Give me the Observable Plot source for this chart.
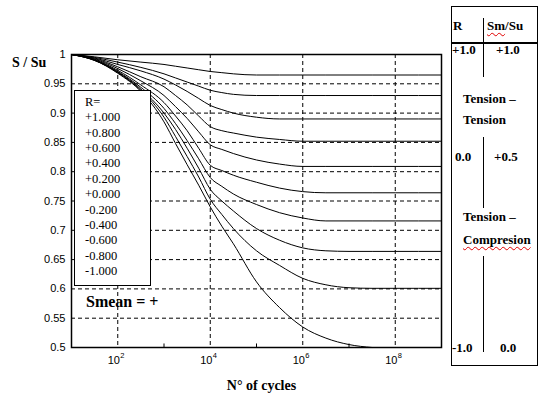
<!DOCTYPE html>
<html>
<head>
<meta charset="utf-8">
<script src="https://cdn.jsdelivr.net/npm/d3@7"></script>
<script src="https://cdn.jsdelivr.net/npm/@observablehq/plot@0.6"></script>
<style>
  body { margin: 0; background: #fff; }
  #wrap { position: relative; width: 543px; height: 398px; background: #fff; overflow: hidden; }
  #chart { position: absolute; left: 0; top: 0; }
  .serif, .serif * { font-family: 'Liberation Serif', 'Times New Roman', Times, 'DejaVu Serif', serif; color: #000; }
  .abs { position: absolute; white-space: nowrap; }
  .b13 { font-weight: bold; font-size: 13px; line-height: 13px; }
  .wavy { text-decoration: underline wavy #e00000; text-decoration-thickness: 1px; text-underline-offset: 2px; }
  #legend { position: absolute; left: 74px; top: 90px; width: 75px; height: 190px; border: 1px solid #000; background: #fff;
            font-size: 12.5px; line-height: 15.4px; padding-top: 3.7px; box-sizing: content-box; }
  #legend div { padding-left: 10px; }
  .vline { position: absolute; width: 1px; background: #000; }
</style>
</head>
<body>
<div id="wrap">
  <div id="chart"></div>
  <div class="abs serif" style="left:12px;top:55.6px;font-size:14px;line-height:14px;font-weight:bold;">S / Su</div>
  <div class="abs serif" style="left:261.5px;top:379px;font-size:14px;line-height:14px;font-weight:bold;transform:translateX(-50%);">N° of cycles</div>
  <div id="legend" class="serif"></div>
  <div class="abs serif" style="left:86px;top:294.4px;font-size:16px;line-height:16px;font-weight:bold;">Smean = +</div>

  <div id="table" class="serif">
    <div class="abs" style="left:451px;top:6px;width:85px;height:358px;border:1.5px solid #000;"></div>
    <div class="abs" style="left:451px;top:42px;width:87px;height:1.5px;background:#000;"></div>
    <div class="vline" style="left:483px;top:18px;height:59px;"></div>
    <div class="vline" style="left:483px;top:137px;height:71px;"></div>
    <div class="vline" style="left:483px;top:256px;height:96px;"></div>
    <div class="abs b13" style="left:453px;top:19.4px;">R</div>
    <div class="abs b13" style="left:487px;top:19.4px;"><span class="wavy">Sm</span>/Su</div>
    <div class="abs b13" style="left:452px;top:43.4px;">+1.0</div>
    <div class="abs b13" style="left:496px;top:43.4px;">+1.0</div>
    <div class="abs b13" style="left:463px;top:91.7px;">Tension –</div>
    <div class="abs b13" style="left:463px;top:113.4px;">Tension</div>
    <div class="abs b13" style="left:455px;top:150px;">0.0</div>
    <div class="abs b13" style="left:494px;top:150px;">+0.5</div>
    <div class="abs b13" style="left:463px;top:210px;">Tension –</div>
    <div class="abs b13" style="left:463px;top:233.4px;"><span class="wavy">Compresion</span></div>
    <div class="abs b13" style="left:452px;top:341px;">-1.0</div>
    <div class="abs b13" style="left:500px;top:341px;">0.0</div>
  </div>
</div>
<script>
// ---- data ----
const logCycles = [1, 1.5, 2, 2.5, 3, 3.25, 3.5, 3.75, 4, 4.25, 4.5, 5, 5.5, 6, 6.5, 7, 7.5, 8, 9];

const rLabels = ["+1.000", "+0.800", "+0.600", "+0.400", "+0.200", "+0.000",
                 "-0.200", "-0.400", "-0.600", "-0.800", "-1.000"];

const sR_p100 = [1, 1, 1, 1, 1, 1, 1, 1, 1, 1, 1, 1, 1, 1, 1, 1, 1, 1, 1];
const sR_p080 = [1, 0.996, 0.991, 0.987, 0.983, 0.980, 0.977, 0.974, 0.971, 0.969, 0.967, 0.965, 0.965, 0.965, 0.965, 0.965, 0.965, 0.965, 0.965];
const sR_p060 = [1, 0.995, 0.987, 0.978, 0.967, 0.960, 0.953, 0.946, 0.939, 0.935, 0.932, 0.930, 0.930, 0.930, 0.930, 0.930, 0.930, 0.930, 0.930];
const sR_p040 = [1, 0.994, 0.983, 0.972, 0.958, 0.948, 0.937, 0.925, 0.913, 0.906, 0.900, 0.893, 0.890, 0.890, 0.890, 0.890, 0.890, 0.890, 0.890];
const sR_p020 = [1, 0.993, 0.979, 0.962, 0.945, 0.930, 0.914, 0.895, 0.877, 0.870, 0.866, 0.859, 0.855, 0.852, 0.852, 0.852, 0.852, 0.852, 0.852];
const sR_p000 = [1, 0.992, 0.976, 0.955, 0.930, 0.911, 0.891, 0.868, 0.846, 0.838, 0.831, 0.820, 0.813, 0.809, 0.809, 0.809, 0.809, 0.809, 0.809];
const sR_m020 = [1, 0.991, 0.973, 0.948, 0.918, 0.895, 0.870, 0.840, 0.811, 0.802, 0.794, 0.782, 0.772, 0.766, 0.764, 0.764, 0.764, 0.764, 0.764];
const sR_m040 = [1, 0.991, 0.971, 0.944, 0.908, 0.882, 0.853, 0.822, 0.790, 0.775, 0.762, 0.744, 0.730, 0.721, 0.716, 0.716, 0.716, 0.716, 0.716];
const sR_m060 = [1, 0.990, 0.970, 0.941, 0.900, 0.872, 0.840, 0.806, 0.770, 0.750, 0.733, 0.703, 0.683, 0.670, 0.665, 0.664, 0.664, 0.664, 0.664];
const sR_m080 = [1, 0.990, 0.969, 0.939, 0.893, 0.860, 0.826, 0.791, 0.753, 0.727, 0.703, 0.665, 0.640, 0.618, 0.607, 0.602, 0.601, 0.601, 0.601];
const sR_m100 = [1, 0.990, 0.968, 0.937, 0.885, 0.848, 0.812, 0.777, 0.740, 0.707, 0.677, 0.612, 0.568, 0.535, 0.516, 0.505, 0.500, null, null];

const yTicks = [0.5, 0.55, 0.6, 0.65, 0.7, 0.75, 0.8, 0.85, 0.9, 0.95, 1];
const yGrid = [0.55, 0.6, 0.65, 0.7, 0.75, 0.8, 0.85, 0.9, 0.95];
const xMajor = [1e2, 1e4, 1e6, 1e8];
const xExponents = ["2", "4", "6", "8"];
const xMinor = [1e3, 1e5, 1e7];

// ---- build table ----
const seriesValues = [sR_p100, sR_p080, sR_p060, sR_p040, sR_p020, sR_p000,
                      sR_m020, sR_m040, sR_m060, sR_m080, sR_m100];
const rows = [];
seriesValues.forEach((vals, k) => {
  vals.forEach((v, i) => {
    if (v != null) rows.push({ r: rLabels[k], n: Math.pow(10, logCycles[i]), v });
  });
});
const xLabelRows = xMajor.map((n, i) => ({ n, e: xExponents[i] }));

// legend
const leg = document.getElementById("legend");
["R=", ...rLabels].forEach(t => { const d = document.createElement("div"); d.textContent = t; leg.appendChild(d); });

const chart = Plot.plot({
  width: 543,
  height: 398,
  marginLeft: 71,
  marginRight: 102,
  marginTop: 54,
  marginBottom: 51,
  style: { fontFamily: "'Liberation Sans', Arial, sans-serif", fontSize: "11px", color: "#000", background: "transparent", overflow: "visible" },
  x: { type: "log", domain: [1e1, 1e9], axis: null },
  y: { domain: [0.5, 1], axis: null },
  marks: [
    Plot.gridY(yGrid, { stroke: "#000", strokeOpacity: 1, strokeWidth: 1, strokeDasharray: "4,3" }),
    Plot.gridX(xMajor, { stroke: "#000", strokeOpacity: 1, strokeWidth: 1, strokeDasharray: "4,3" }),
    Plot.line(rows, { x: "n", y: "v", z: "r", curve: "monotone-x", stroke: "#000", strokeWidth: 1 }),
    Plot.ruleX(xMinor, { y1: 0.5, y2: 0.506, stroke: "#000", strokeWidth: 1 }),
    Plot.frame({ stroke: "#000", strokeWidth: 1.5 }),
    Plot.axisY(yTicks, { anchor: "left", label: null, tickSize: 0, tickPadding: 6, tickFormat: d => String(+d.toFixed(2)) }),
    Plot.text(xLabelRows, { x: "n", frameAnchor: "bottom", text: () => "10", dx: -4, dy: 12.5, lineAnchor: "middle", fontSize: 11 }),
    Plot.text(xLabelRows, { x: "n", frameAnchor: "bottom", text: "e", dx: 4.5, dy: 8, lineAnchor: "middle", fontSize: 7.5 })
  ]
});
document.getElementById("chart").appendChild(chart);
</script>
</body>
</html>
